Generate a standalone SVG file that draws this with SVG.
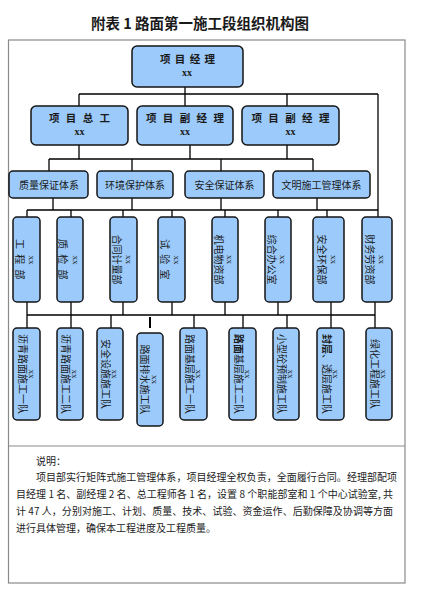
<svg xmlns="http://www.w3.org/2000/svg" width="425" height="600" viewBox="0 0 425 600">
<style>
.bg{fill:#ffffff}
.frame{fill:none;stroke:#8a8a8a;stroke-width:1.2}
.box{fill:#9ccbfb;stroke:#151515;stroke-width:1.5}
.ln{fill:none;stroke:#000;stroke-width:1.3}
.cjk{font-family:"Noto Sans CJK SC","Noto Sans CJK JP",sans-serif;fill:#1a1a1a}
.hd{font-size:10.5px;font-weight:bold;letter-spacing:2px}
.xx{font-family:"Liberation Serif",serif;font-weight:bold;font-size:10px;fill:#1a1a1a}
.lab{font-size:10px}
.vx{font-family:"Liberation Serif",serif;font-size:9px;fill:#1a1a1a}
.sp{letter-spacing:1.5px}
.note{font-size:10px;fill:#222}
</style>
<rect class="bg" x="0" y="0" width="425" height="600"/>
<text class="cjk" x="200" y="22" text-anchor="middle" dominant-baseline="central" font-size="14.5" font-weight="bold">附表 1  路面第一施工段组织机构图</text>
<rect class="frame" x="8.5" y="40" width="396.5" height="543"/>
<line class="frame" x1="8.5" y1="446" x2="405" y2="446"/>

<g id="connectors" class="ln">
<path d="M185,87V94M79,94H378M79,94V106M185,94V106M287,94V106M378,94V217"/>
<path d="M79,145V159M190,145V159M287,145V159M49,159H313M49,159V171M132,159V171M221,159V171M313,159V171"/>
<path d="M53,198V210M132,198V210M221,198V210M317,198V210M27,210H378M27,210V217M71,210V217M123,210V217M172,210V217M225,210V217M278,210V217M327,210V217"/>
<path d="M27,302V315M71,302V315M123,302V315M172,302V315M225,302V315M278,302V315M331,302V315M375,302V315M27,315H375M27,315V328M71,315V328M111,315V328M194,315V328M243,315V328M287,315V328M331,315V328M375,315V328"/>
<path d="M150,317V328" stroke-width="2"/>
</g>

<g id="n-root">
<rect class="box" x="132" y="46" width="111" height="41" rx="5"/>
<text class="cjk hd" x="188" y="58" text-anchor="middle" dominant-baseline="central" style="letter-spacing:1px">项 目 经 理</text>
<text class="xx" x="187" y="72" text-anchor="middle" dominant-baseline="central">xx</text>
</g>

<g id="n-zonggong">
<rect class="box" x="31" y="106" width="97" height="39" rx="5"/>
<text class="cjk hd" x="80.5" y="117" text-anchor="middle" dominant-baseline="central">项 目 总 工</text>
<text class="xx" x="79.5" y="131" text-anchor="middle" dominant-baseline="central">xx</text>
</g>
<g id="n-fujingli1">
<rect class="box" x="137" y="106" width="96" height="39" rx="5"/>
<text class="cjk hd" x="186" y="117" text-anchor="middle" dominant-baseline="central">项 目 副 经 理</text>
<text class="xx" x="185" y="131" text-anchor="middle" dominant-baseline="central">xx</text>
</g>
<g id="n-fujingli2">
<rect class="box" x="242" y="106" width="97" height="39" rx="5"/>
<text class="cjk hd" x="291.5" y="117" text-anchor="middle" dominant-baseline="central">项 目 副 经 理</text>
<text class="xx" x="290.5" y="131" text-anchor="middle" dominant-baseline="central">xx</text>
</g>

<g id="n-zhiliang">
<rect class="box" x="9" y="171" width="79" height="27" rx="4"/>
<text class="cjk lab" x="49" y="184.5" text-anchor="middle" dominant-baseline="central">质量保证体系</text>
</g>
<g id="n-huanjing">
<rect class="box" x="97" y="171" width="76" height="27" rx="4"/>
<text class="cjk lab" x="135" y="184.5" text-anchor="middle" dominant-baseline="central">环境保护体系</text>
</g>
<g id="n-anquan">
<rect class="box" x="185" y="171" width="79" height="27" rx="4"/>
<text class="cjk lab" x="224.5" y="184.5" text-anchor="middle" dominant-baseline="central">安全保证体系</text>
</g>
<g id="n-wenming">
<rect class="box" x="273" y="171" width="97" height="27" rx="4"/>
<text class="cjk lab" x="321.5" y="184.5" text-anchor="middle" dominant-baseline="central">文明施工管理体系</text>
</g>

<g id="n-gongcheng">
<rect class="box" x="13" y="217" width="27" height="85" rx="4"/>
<text transform="translate(26.5,260) rotate(90)" text-anchor="middle" dominant-baseline="central"><tspan class="vx" x="0" y="-5.5">xx</tspan><tspan class="cjk lab sp" x="0" y="6">工 程 部</tspan></text>
</g>
<g id="n-zhijian">
<rect class="box" x="57" y="217" width="26" height="85" rx="4"/>
<text transform="translate(70,260) rotate(90)" text-anchor="middle" dominant-baseline="central"><tspan class="vx" x="0" y="-5.5">xx</tspan><tspan class="cjk lab sp" x="0" y="6">质 检 部</tspan></text>
</g>
<g id="n-hetong">
<rect class="box" x="110" y="217" width="27" height="85" rx="4"/>
<text transform="translate(123.5,259.5) rotate(90)" text-anchor="middle" dominant-baseline="central"><tspan class="vx" x="0" y="-5">xx</tspan><tspan class="cjk lab" x="0" y="5.5">合同计量部</tspan></text>
</g>
<g id="n-shiyan">
<rect class="box" x="158" y="217" width="27" height="85" rx="4"/>
<text transform="translate(171.5,260) rotate(90)" text-anchor="middle" dominant-baseline="central"><tspan class="vx" x="0" y="-5.5">xx</tspan><tspan class="cjk lab sp" x="0" y="6">试 验 室</tspan></text>
</g>
<g id="n-jidian">
<rect class="box" x="212" y="217" width="26" height="85" rx="4"/>
<text transform="translate(225,259.5) rotate(90)" text-anchor="middle" dominant-baseline="central"><tspan class="vx" x="0" y="-5">xx</tspan><tspan class="cjk lab" x="0" y="5.5">机电物资部</tspan></text>
</g>
<g id="n-zonghe">
<rect class="box" x="265" y="217" width="26" height="85" rx="4"/>
<text transform="translate(278,259.5) rotate(90)" text-anchor="middle" dominant-baseline="central"><tspan class="vx" x="0" y="-5">xx</tspan><tspan class="cjk lab" x="0" y="5.5">综合办公室</tspan></text>
</g>
<g id="n-huanbao">
<rect class="box" x="313" y="217" width="31" height="85" rx="4"/>
<text transform="translate(328.5,259.5) rotate(90)" text-anchor="middle" dominant-baseline="central"><tspan class="vx" x="0" y="-5">xx</tspan><tspan class="cjk lab" x="0" y="6">安全环保部</tspan></text>
</g>
<g id="n-caiwu">
<rect class="box" x="362" y="217" width="30" height="85" rx="4"/>
<text transform="translate(377,259.5) rotate(90)" text-anchor="middle" dominant-baseline="central"><tspan class="vx" x="0" y="-5">xx</tspan><tspan class="cjk lab" x="0" y="6">财务劳资部</tspan></text>
</g>

<g id="n-liqing1">
<rect class="box" x="13" y="328" width="27" height="92" rx="4"/>
<text transform="translate(26.5,374) rotate(90)" text-anchor="middle" dominant-baseline="central"><tspan class="vx" x="0" y="-5">xx</tspan><tspan class="cjk lab" x="0" y="3">沥青路面施工一队</tspan></text>
</g>
<g id="n-liqing2">
<rect class="box" x="57" y="328" width="26" height="92" rx="4"/>
<text transform="translate(70,374) rotate(90)" text-anchor="middle" dominant-baseline="central"><tspan class="vx" x="0" y="-5">xx</tspan><tspan class="cjk lab" x="0" y="3">沥青路面施工二队</tspan></text>
</g>
<g id="n-anquansheshi">
<rect class="box" x="97" y="328" width="26" height="92" rx="4"/>
<text transform="translate(110,374) rotate(90)" text-anchor="middle" dominant-baseline="central"><tspan class="vx" x="0" y="-5">xx</tspan><tspan class="cjk lab" x="0" y="3">安全设施施工队</tspan></text>
</g>
<g id="n-paishui">
<rect class="box" x="137" y="333" width="26" height="93" rx="4"/>
<text transform="translate(150,379.5) rotate(90)" text-anchor="middle" dominant-baseline="central"><tspan class="vx" x="0" y="-5">xx</tspan><tspan class="cjk lab" x="0" y="4">路面排水施工队</tspan></text>
</g>
<g id="n-jiceng1">
<rect class="box" x="180" y="328" width="27" height="92" rx="4"/>
<text transform="translate(193.5,374) rotate(90)" text-anchor="middle" dominant-baseline="central"><tspan class="vx" x="0" y="-5">xx</tspan><tspan class="cjk lab" x="0" y="3">路面基层施工一队</tspan></text>
</g>
<g id="n-jiceng2">
<rect class="box" x="229" y="328" width="27" height="92" rx="4"/>
<text transform="translate(242.5,374) rotate(90)" text-anchor="middle" dominant-baseline="central"><tspan class="vx" x="0" y="-5">xx</tspan><tspan class="cjk lab" x="0" y="3"><tspan font-weight="bold">路面</tspan>基层施工二队</tspan></text>
</g>
<g id="n-yuzhi">
<rect class="box" x="273" y="328" width="26" height="92" rx="4"/>
<text transform="translate(286,374) rotate(90)" text-anchor="middle" dominant-baseline="central"><tspan class="vx" x="0" y="-5">xx</tspan><tspan class="cjk lab" x="0" y="3">小型砼预制施工队</tspan></text>
</g>
<g id="n-fengceng">
<rect class="box" x="317" y="328" width="27" height="92" rx="4"/>
<text transform="translate(330.5,374) rotate(90)" text-anchor="middle" dominant-baseline="central"><tspan class="vx" x="0" y="-5">xx</tspan><tspan class="cjk lab" x="0" y="3"><tspan font-weight="bold">封层</tspan>、透层施工队</tspan></text>
</g>
<g id="n-lvhua">
<rect class="box" x="366" y="328" width="26" height="92" rx="4"/>
<text transform="translate(379,374) rotate(90)" text-anchor="middle" dominant-baseline="central"><tspan class="vx" x="0" y="-5">xx</tspan><tspan class="cjk lab" x="0" y="3">绿化工程施工队</tspan></text>
</g>

<g id="note" class="cjk note">
<text x="36" y="460" dominant-baseline="central">说明：</text>
<text x="36" y="476" dominant-baseline="central" textLength="361" lengthAdjust="spacing">项目部实行矩阵式施工管理体系，项目经理全权负责，全面履行合同。经理部配项</text>
<text x="16" y="493" dominant-baseline="central" textLength="377" lengthAdjust="spacing">目经理 1 名、副经理 2 名、总工程师各 1 名，设置 8 个职能部室和 1 个中心试验室, 共</text>
<text x="16" y="510" dominant-baseline="central" textLength="377" lengthAdjust="spacing">计 47 人，分别对施工、计划、质量、技术、试验、资金运作、后勤保障及协调等方面</text>
<text x="16" y="527" dominant-baseline="central">进行具体管理，确保本工程进度及工程质量。</text>
</g>
</svg>
